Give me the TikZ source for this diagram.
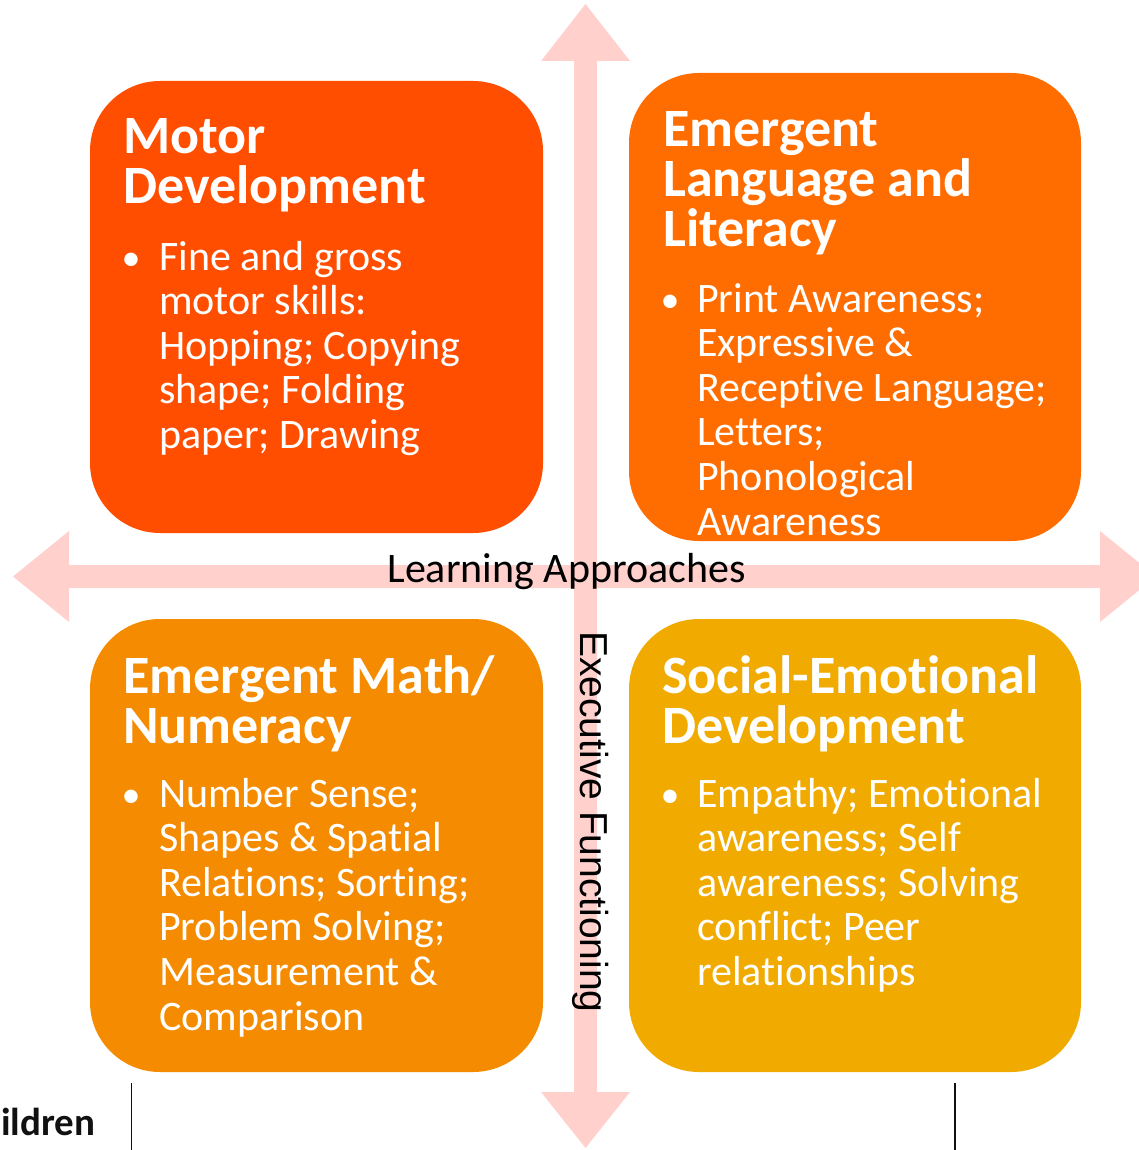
\documentclass[tikz,border=0pt]{standalone}
\usepackage{fontspec}
\setmainfont{Carlito}[Ligatures=NoCommon]
\newfontfamily\axisfont{Liberation Sans}

\definecolor{motorcol}{HTML}{FF4E00}
\definecolor{langcol}{HTML}{FF6D00}
\definecolor{mathcol}{HTML}{F48B00}
\definecolor{socialcol}{HTML}{F0AA00}
\definecolor{axiscol}{HTML}{FFD0CC}
\definecolor{inkcol}{HTML}{111111}

% stack of left-aligned lines whose baseline is that of the first line
\newcommand\linesof[1]{\vtop{\halign{##\hfil\cr#1\crcr}}}

\tikzset{
  areabox/.style={rounded corners=70pt, inner sep=0pt, draw=none},
  heading/.style={anchor=base west, inner sep=0pt, text=white,
    font=\bfseries\fontsize{54}{50}\selectfont},
  itemtext/.style={anchor=base west, inner sep=0pt, text=white,
    font=\fontsize{42}{44.6}\selectfont},
  itemdot/.style={anchor=base, inner sep=0pt, text=white,
    font=\fontsize{38}{44.6}\selectfont},
  axisarrow/.style={fill=axiscol, draw=none},
  axislabel/.style={inner sep=0pt, text=black},
  sideline/.style={draw=inkcol, line width=1.5pt}
}

\begin{document}
\begin{tikzpicture}[x=1pt,y=-1pt]
\useasboundingbox (0,0) rectangle (1139,1150);

% the two axes as double-headed block arrows
\fill[axisarrow] (585.5,4) -- (630,61) -- (597,61) -- (597,1092) -- (630,1092)
  -- (585.5,1148) -- (541,1092) -- (574,1092) -- (574,61) -- (541,61) -- cycle;
\fill[axisarrow] (13,576.5) -- (69,531) -- (69,565) -- (1100,565) -- (1100,531)
  -- (1156,576.5) -- (1100,622) -- (1100,588) -- (69,588) -- (69,622) -- cycle;

% the four areas
\node[areabox, fill=motorcol, minimum width=453pt, minimum height=452pt] (motor) at (316.5,307) {};
\node[areabox, fill=langcol, minimum width=452pt, minimum height=468pt] (lang) at (855,307) {};
\node[areabox, fill=mathcol, minimum width=453pt, minimum height=453pt] (math) at (316.5,845.5) {};
\node[areabox, fill=socialcol, minimum width=452pt, minimum height=453pt] (social) at (855,845.5) {};

% Motor Development
\node[heading] (motorhead) at (123,154) {\linesof{Motor\cr Development}};
\node[itemdot] (motordot) at (131,270) {•};
\node[itemtext] (motoritem) at (159,270) {\linesof{Fine and gross\cr motor skills:\cr Hopping; Copying\cr shape; Folding\cr paper; Drawing}};

% Emergent Language and Literacy
\node[heading] (langhead) at (663,147) {\linesof{Emergent\cr Language and\cr Literacy}};
\node[itemdot] (langdot) at (670,312) {•};
\node[itemtext] (langitem) at (697,312) {\linesof{Print Awareness;\cr Expressive \&\cr Receptive Language;\cr Letters;\cr Phonological\cr Awareness}};

% Emergent Math / Numeracy
\node[heading] (mathhead) at (123,693) {\linesof{Emergent Math/\cr Numeracy}};
\node[itemdot] (mathdot) at (131,807) {•};
\node[itemtext] (mathitem) at (159,807) {\linesof{Number Sense;\cr Shapes \& Spatial\cr Relations; Sorting;\cr Problem Solving;\cr Measurement \&\cr Comparison}};

% Social-Emotional Development
\node[heading] (socialhead) at (662,693) {\linesof{Social-Emotional\cr Development}};
\node[itemdot] (socialdot) at (670,807) {•};
\node[itemtext] (socialitem) at (697,807) {\linesof{Empathy; Emotional\cr awareness; Self\cr awareness; Solving\cr conflict; Peer\cr relationships}};

% axis labels
\node[axislabel, anchor=base, font=\fontsize{42}{44}\selectfont] (learning) at (566.5,582) {Learning Approaches};
\node[axislabel, anchor=base west, rotate=-90, font=\axisfont\fontsize{39}{40}\selectfont] (executive) at (580,631) {Executive Functioning};

% bits of the surrounding layout
\node[anchor=base west, inner sep=0pt, text=inkcol, font=\bfseries\fontsize{39}{42}\selectfont] (children) at (1,1135) {ildren};
\coordinate (ruleAtop) at (131.5,1083);
\coordinate (ruleAbot) at (131.5,1152);
\coordinate (ruleBtop) at (955,1083);
\coordinate (ruleBbot) at (955,1152);
\draw[sideline] (ruleAtop) -- (ruleAbot);
\draw[sideline] (ruleBtop) -- (ruleBbot);
\end{tikzpicture}
\end{document}
